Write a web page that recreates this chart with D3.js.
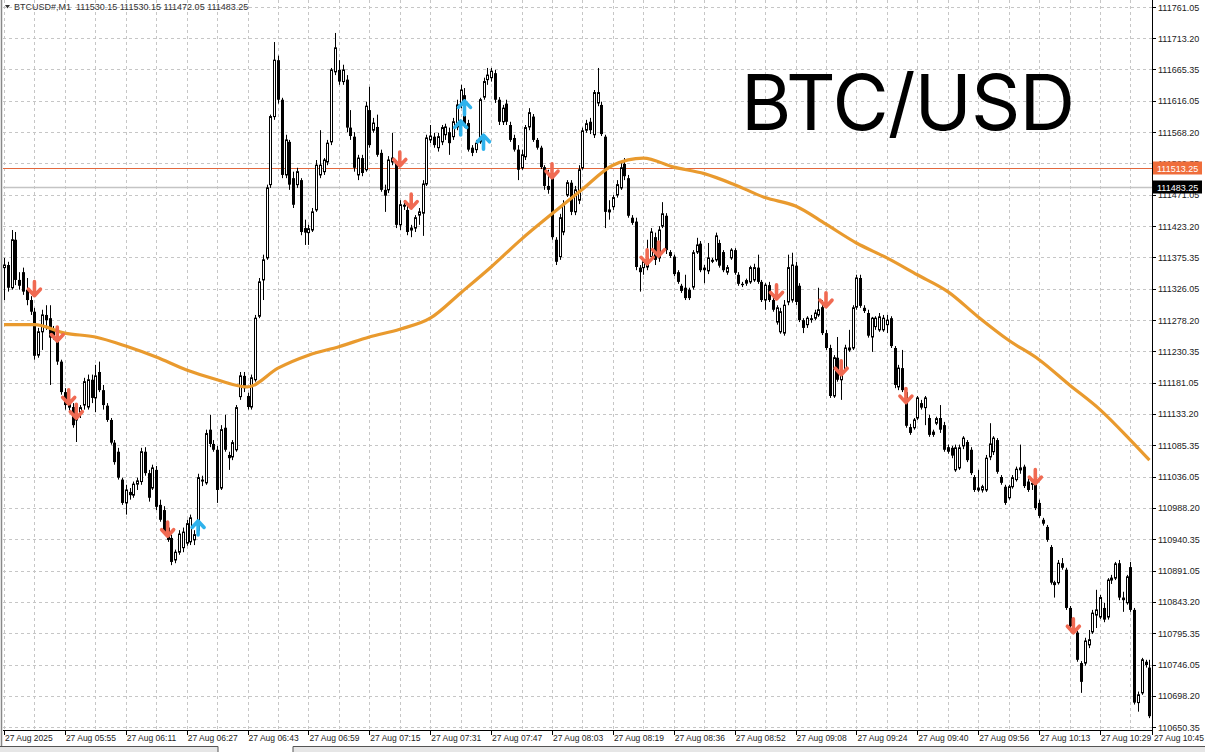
<!DOCTYPE html>
<html><head><meta charset="utf-8">
<script src="https://cdn.jsdelivr.net/npm/d3@7"></script>
<style>
html,body{margin:0;padding:0;background:#fff;}
svg{display:block;font-family:"Liberation Sans",Arial,sans-serif;}
</style>
</head><body>
<svg id="chart" width="1205" height="752"></svg>
<script>
// ---------------- DATA ----------------
const openP = [
111359,111363,111328,111402,111340,111352,111325,111309,111291,111224,
111260,111286,111281,111263,111251,111214,111167,111149,111144,111124,
111136,111147,111144,111186,111158,111198,111170,111146,111124,111089,
111075,111032,110996,111013,111008,111025,111029,111075,111042,111019,
111047,110993,110985,110958,110942,110908,110920,110927,110934,110936,
110939,110954,111032,111027,111109,111087,111078,111019,111112,111070,
111067,111078,111160,111192,111161,111144,111186,111284,111340,111374,
111487,111592,111679,111618,111502,111553,111497,111487,111494,111420,
111413,111417,111448,111502,111507,111522,111553,111661,111664,111646,
111649,111575,111561,111502,111528,111510,111602,111571,111576,111536,
111479,111479,111522,111521,111425,111456,111448,111417,111420,111440,
111443,111488,111556,111561,111544,111553,111564,111568,111561,111576,
111610,111625,111582,111544,111541,111553,111622,111649,111652,111659,
111618,111584,111612,111579,111559,111541,111513,111530,111576,111592,
111556,111544,111514,111485,111504,111402,111376,111414,111471,111490,
111445,111463,111513,111571,111584,111564,111613,111610,111561,111445,
111453,111471,111482,111519,111497,111436,111430,111359,111359,111360,
111376,111406,111374,111423,111439,111383,111376,111352,111331,111328,
111325,111329,111383,111396,111359,111354,111371,111371,111397,111383,
111352,111374,111386,111348,111334,111335,111337,111340,111359,111337,
111309,111332,111309,111275,111260,111258,111306,111309,111362,111331,
111278,111271,111281,111281,111286,111298,111258,111235,111161,111220,
111186,111201,111232,111235,111298,111343,111297,111289,111252,111268,
111263,111263,111271,111281,111235,111175,111204,111167,111113,111112,
111127,111150,111143,111127,111106,111119,111127,111116,111082,111081,
111047,111050,111084,111090,111078,111036,111016,111016,111016,111067,
111075,111093,111036,111021,111004,111021,111032,111047,111052,111029,
111027,111027,110996,110970,110959,110928,110870,110873,110903,110893,
110834,110805,110796,110749,110749,110777,110797,110823,110820,110834,
110820,110877,110880,110903,110850,110842,110897,110831,110688,110703,
110751,110742
];
const highP = [
111374,111368,111417,111414,111352,111359,111343,111315,111297,111266,
111294,111301,111301,111269,111255,111217,111173,111155,111150,111143,
111147,111189,111194,111194,111209,111214,111178,111150,111127,111093,
111081,111035,111024,111019,111029,111035,111081,111082,111047,111055,
111053,111001,110991,110962,110947,110924,110954,110958,110970,110978,
110954,111041,111038,111109,111132,111093,111084,111116,111132,111075,
111093,111147,111198,111198,111166,111194,111286,111343,111379,111487,
111595,111707,111686,111621,111564,111556,111507,111513,111497,111433,
111425,111451,111525,111571,111528,111556,111667,111721,111679,111672,
111656,111602,111568,111533,111533,111615,111638,111590,111595,111541,
111487,111531,111567,111525,111463,111463,111456,111425,111440,111451,
111494,111564,111579,111567,111567,111579,111581,111575,111590,111618,
111641,111636,111587,111548,111556,111621,111652,111667,111667,111664,
111622,111610,111618,111584,111564,111548,111541,111579,111605,111596,
111559,111547,111517,111510,111510,111406,111442,111463,111494,111494,
111485,111517,111575,111587,111590,111633,111667,111615,111564,111463,
111471,111494,111521,111528,111502,111440,111436,111363,111374,111402,
111420,111413,111423,111460,111443,111386,111379,111355,111334,111348,
111328,111386,111405,111400,111363,111397,111374,111413,111402,111386,
111363,111389,111389,111352,111337,111342,111362,111365,111379,111340,
111335,111337,111312,111301,111297,111309,111379,111382,111368,111335,
111281,111284,111286,111294,111328,111309,111263,111240,111224,111252,
111209,111240,111263,111301,111348,111348,111301,111294,111283,111284,
111289,111286,111286,111284,111238,111209,111232,111170,111118,111127,
111161,111155,111161,111132,111109,111129,111147,111121,111086,111084,
111086,111086,111099,111093,111082,111039,111047,111024,111070,111119,
111099,111096,111039,111024,111024,111039,111052,111086,111055,111035,
111032,111035,111001,110973,110962,110931,110876,110908,110911,110896,
110837,110816,110799,110752,110788,110800,110831,110862,110854,110842,
110880,110885,110905,110908,110859,110885,110905,110834,110705,110757,
110754,110754
];
const lowP = [
111309,111322,111325,111332,111325,111317,111301,111286,111217,111220,
111232,111263,111178,111248,111209,111163,111140,111136,111112,111090,
111127,111140,111140,111150,111136,111167,111140,111121,111086,111055,
111032,110993,110978,111001,111004,111016,111024,111038,110998,111016,
110985,110967,110947,110936,110900,110903,110916,110920,110930,110931,
110931,110951,111022,111024,111082,111075,110996,111016,111075,111047,
111062,111075,111155,111167,111140,111140,111183,111281,111309,111371,
111482,111587,111612,111497,111497,111479,111451,111482,111409,111394,
111394,111414,111445,111497,111502,111517,111548,111656,111641,111641,
111568,111556,111507,111494,111500,111507,111544,111567,111530,111476,
111445,111474,111517,111420,111417,111448,111409,111406,111414,111425,
111408,111485,111551,111544,111538,111548,111556,111533,111556,111571,
111605,111575,111538,111531,111536,111550,111618,111641,111646,111613,
111579,111579,111579,111553,111538,111494,111510,111525,111571,111553,
111541,111511,111479,111473,111402,111363,111371,111409,111468,111440,
111440,111457,111510,111567,111565,111559,111608,111562,111420,111433,
111448,111467,111479,111494,111436,111425,111355,111322,111348,111355,
111371,111363,111368,111420,111380,111374,111346,111334,111320,111309,
111309,111325,111380,111352,111335,111349,111366,111368,111359,111352,
111348,111371,111348,111331,111329,111331,111334,111337,111334,111306,
111294,111306,111291,111271,111257,111254,111301,111305,111301,111275,
111258,111266,111274,111278,111283,111255,111232,111158,111158,111183,
111155,111198,111229,111232,111294,111297,111289,111251,111229,111263,
111260,111260,111258,111235,111173,111170,111167,111112,111101,111109,
111124,111140,111116,111098,111098,111116,111104,111075,111072,111065,
111044,111047,111079,111059,111039,111013,111013,111012,111013,111062,
111070,111041,111024,110993,111001,111018,111029,111041,111019,111013,
111016,110985,110973,110961,110936,110870,110850,110870,110893,110831,
110803,110794,110751,110703,110745,110772,110794,110803,110817,110812,
110816,110871,110877,110846,110828,110839,110828,110685,110674,110700,
110742,110664
];
const closeP = [
111363,111328,111402,111340,111331,111322,111309,111291,111223,111260,
111286,111278,111251,111254,111214,111167,111147,111143,111116,111136,
111143,111183,111186,111158,111192,111170,111147,111124,111089,111059,
111035,110996,111016,111008,111025,111030,111075,111042,111004,111050,
110990,110970,110951,110939,110905,110920,110948,110951,110964,110973,
110947,111035,111029,111103,111087,111078,111016,111109,111078,111065,
111089,111143,111192,111173,111144,111189,111281,111337,111371,111482,
111592,111679,111618,111502,111556,111487,111456,111507,111414,111413,
111419,111445,111517,111517,111525,111551,111664,111698,111646,111664,
111575,111562,111513,111528,111505,111608,111548,111582,111533,111479,
111470,111525,111528,111425,111456,111453,111414,111420,111436,111445,
111488,111559,111562,111548,111561,111575,111576,111551,111584,111610,
111633,111579,111541,111536,111551,111618,111646,111656,111662,111618,
111584,111605,111584,111556,111541,111510,111533,111575,111598,111556,
111544,111514,111485,111479,111406,111368,111436,111457,111490,111445,
111479,111510,111570,111581,111571,111629,111629,111565,111445,111448,
111467,111487,111513,111500,111439,111428,111360,111352,111368,111374,
111414,111371,111417,111442,111386,111377,111349,111337,111323,111312,
111312,111382,111394,111355,111355,111374,111368,111408,111362,111355,
111359,111386,111351,111334,111332,111339,111359,111359,111337,111309,
111332,111309,111294,111297,111291,111301,111359,111363,111306,111278,
111266,111281,111278,111289,111294,111258,111235,111161,111220,111186,
111204,111235,111235,111297,111343,111300,111292,111254,111281,111281,
111283,111281,111278,111238,111178,111204,111170,111115,111104,111124,
111158,111143,111158,111101,111101,111126,111109,111078,111075,111069,
111081,111081,111096,111062,111042,111016,111019,111021,111065,111087,
111096,111044,111027,110996,111021,111035,111048,111050,111022,111016,
111024,110988,110976,110964,110939,110873,110873,110903,110896,110834,
110806,110797,110754,110720,110783,110785,110826,110831,110850,110816,
110877,110880,110902,110850,110846,110882,110831,110688,110700,110754,
110746,110667
];

// moving average (sampled every 8 bars)
const maBarIndex = [0,8,16,24,32,40,48,56,64,72,80,88,96,104,112,120,128,136,144,152,160,168,176,184,192,200,208,216,224,232,240,248,256,264,272,280,288,296,301];
const maValue = [111271,111271,111258,111252,111238,111221,111201,111186,111175,111204,111224,111237,111252,111264,111281,111320,111360,111403,111442,111480,111517,111528,111514,111504,111487,111467,111454,111426,111397,111374,111348,111322,111283,111247,111217,111178,111140,111093,111062];

// signal arrows
const sellBar = [8,14,17,19,43,104,107,144,169,172,203,216,220,237,271,281];
const sellPrice = [111325,111255,111158,111136,110954,111525,111460,111507,111374,111386,111320,111308,111203,111160,111035,110805];
const buyBar = [51,120,121,126];
const buyPrice = [110959,111576,111607,111554];

// axes
const yTickValues = [111761.05,111713.20,111665.35,111616.05,111568.20,111520.35,111471.05,111423.20,111375.35,111326.05,111278.20,111230.35,111181.05,111133.20,111085.35,111036.05,110988.20,110940.35,110891.05,110843.20,110795.35,110746.05,110698.20,110650.35];
const xTickBar = [0,16,32,48,64,80,96,112,128,144,160,176,192,208,224,240,256,272,288,302];
const xTickLabel = ["27 Aug 2025","27 Aug 05:55","27 Aug 06:11","27 Aug 06:27","27 Aug 06:43","27 Aug 06:59","27 Aug 07:15","27 Aug 07:31","27 Aug 07:47","27 Aug 08:03","27 Aug 08:19","27 Aug 08:36","27 Aug 08:52","27 Aug 09:08","27 Aug 09:24","27 Aug 09:40","27 Aug 09:56","27 Aug 10:13","27 Aug 10:29","27 Aug 10:45"];

const askLine = 111513.25;
const bidLine = 111483.25;
const infoText = "BTCUSD#,M1  111530.15 111530.15 111472.05 111483.25";
const titleText = "BTC/USD";

// ---------------- DRAW ----------------
const svg = d3.select("#chart");
const plotLeft = 3, plotRight = 1152, plotTop = 0, axisY = 730;

const x = d3.scaleLinear().domain([0, 288]).range([4, 1100]);
const y = d3.scaleLinear().domain([110650.35, 111761.05]).range([727, 7]);

svg.append("rect").attr("width",1205).attr("height",752).attr("fill","#fff");

svg.append("defs").append("clipPath").attr("id","plotclip")
  .append("rect").attr("x",plotLeft).attr("y",plotTop).attr("width",plotRight-plotLeft).attr("height",axisY-plotTop);

// grid
const grid = svg.append("g").attr("stroke","#c6c6c6").attr("stroke-width",1).attr("stroke-dasharray","3,3");
grid.selectAll("line.h").data(yTickValues).join("line")
  .attr("x1",plotLeft).attr("x2",plotRight)
  .attr("y1",d=>Math.round(y(d))+0.5).attr("y2",d=>Math.round(y(d))+0.5);
const vIdx = d3.range(0, 301, 8);
grid.selectAll("line.v").data(vIdx).join("line")
  .attr("x1",d=>Math.round(x(d))+0.5).attr("x2",d=>Math.round(x(d))+0.5)
  .attr("y1",plotTop).attr("y2",axisY);

const plot = svg.append("g").attr("clip-path","url(#plotclip)");

// price lines
plot.append("line").attr("x1",plotLeft).attr("x2",plotRight)
  .attr("y1",Math.round(y(bidLine))+0.5).attr("y2",Math.round(y(bidLine))+0.5)
  .attr("stroke","#c4c4c4").attr("stroke-width",1.5);
plot.append("line").attr("x1",plotLeft).attr("x2",plotRight)
  .attr("y1",Math.round(y(askLine))+0.5).attr("y2",Math.round(y(askLine))+0.5)
  .attr("stroke","#e2683e").attr("stroke-width",1);

// candles
const bars = d3.range(openP.length).map(i=>({i,o:openP[i],h:highP[i],l:lowP[i],c:closeP[i]}));
const cg = plot.append("g");
cg.selectAll("line.wick").data(bars).join("line")
  .attr("x1",d=>Math.round(x(d.i))+0.5).attr("x2",d=>Math.round(x(d.i))+0.5)
  .attr("y1",d=>y(d.h)).attr("y2",d=>y(d.l))
  .attr("stroke","#000").attr("stroke-width",1);
cg.selectAll("rect.body").data(bars).join("rect")
  .attr("x",d=> d.c>=d.o ? Math.round(x(d.i))-0.5 : Math.round(x(d.i))-1)
  .attr("width",d=> d.c>=d.o ? 2 : 3)
  .attr("y",d=>y(Math.max(d.o,d.c)))
  .attr("height",d=>Math.max(1, Math.abs(y(d.o)-y(d.c))))
  .attr("fill",d=> d.c>=d.o ? "#fff" : "#000")
  .attr("stroke",d=> d.c>=d.o ? "#000" : "none")
  .attr("stroke-width",1);

// moving average
const ma = maBarIndex.map((b,k)=>({b,v:maValue[k]}));
plot.append("path").datum(ma)
  .attr("d", d3.line().x(d=>x(d.b)).y(d=>y(d.v)).curve(d3.curveMonotoneX))
  .attr("fill","none").attr("stroke","#e99a2e").attr("stroke-width",3.2).attr("stroke-linejoin","round");

// arrows
function arrowPath(dir){ // dir 1 = down, -1 = up
  const s = dir;
  return `M0,${-8*s} L0,${6*s} M-6,${-0.5*s} L0,${6*s} L6,${-0.5*s}`;
}
const ag = plot.append("g");
ag.selectAll("path.sell").data(sellBar.map((b,k)=>({b,p:sellPrice[k]}))).join("path")
  .attr("transform",d=>`translate(${x(d.b)},${y(d.p)})`)
  .attr("d",arrowPath(1)).attr("fill","none").attr("stroke","#f06a52")
  .attr("stroke-width",3.6).attr("stroke-linejoin","round").attr("stroke-linecap","round");
ag.selectAll("path.buy").data(buyBar.map((b,k)=>({b,p:buyPrice[k]}))).join("path")
  .attr("transform",d=>`translate(${x(d.b)},${y(d.p)})`)
  .attr("d",arrowPath(-1)).attr("fill","none").attr("stroke","#2fb2ec")
  .attr("stroke-width",3.6).attr("stroke-linejoin","round").attr("stroke-linecap","round");

// axes lines
svg.append("line").attr("x1",plotRight+0.5).attr("x2",plotRight+0.5).attr("y1",0).attr("y2",axisY+5)
  .attr("stroke","#000").attr("stroke-width",1);
svg.append("line").attr("x1",plotLeft).attr("x2",plotRight).attr("y1",axisY+0.5).attr("y2",axisY+0.5)
  .attr("stroke","#000").attr("stroke-width",1);

// y ticks & labels
const yg = svg.append("g");
yg.selectAll("line").data(yTickValues).join("line")
  .attr("x1",plotRight).attr("x2",plotRight+4)
  .attr("y1",d=>Math.round(y(d))+0.5).attr("y2",d=>Math.round(y(d))+0.5)
  .attr("stroke","#000");
yg.selectAll("text").data(yTickValues).join("text")
  .attr("x",plotRight+6).attr("y",d=>y(d)+3.5)
  .attr("font-size",9).attr("fill","#222")
  .text(d=>d.toFixed(2));

// x ticks & labels
const xg = svg.append("g");
xg.selectAll("line").data(xTickBar).join("line")
  .attr("x1",d=>Math.round(Math.min(x(d),plotRight))+0.5).attr("x2",d=>Math.round(Math.min(x(d),plotRight))+0.5)
  .attr("y1",axisY).attr("y2",axisY+5).attr("stroke","#000");
xg.selectAll("text").data(xTickBar).join("text")
  .attr("x",d=> x(d) > plotRight ? 1204 : x(d)+1)
  .attr("text-anchor",d=> x(d) > plotRight ? "end" : "start")
  .attr("y",axisY+11)
  .attr("font-size",8.5).attr("fill","#222")
  .text((d,k)=>xTickLabel[k]);

// price label boxes
function priceBox(v, bg){
  const g = svg.append("g").attr("transform",`translate(${plotRight+1},${Math.round(y(v))})`);
  g.append("rect").attr("x",0).attr("y",-6.5).attr("width",49).attr("height",13).attr("fill",bg);
  g.append("text").attr("x",4).attr("y",3.5).attr("font-size",9).attr("fill","#fff").text(v.toFixed(2));
}
priceBox(askLine,"#ef6d3b");
priceBox(bidLine,"#000");

// info text
svg.append("path").attr("d","M5,5 L10,5 L7.5,8.5 Z").attr("fill","#333");
svg.append("text").attr("x",14).attr("y",10).attr("font-size",9).attr("fill","#333")
  .attr("xml:space","preserve").style("white-space","pre").text(infoText);

// title
const title = svg.append("text").attr("x",741).attr("y",130)
  .attr("font-family","Inter, 'Liberation Sans', Arial, sans-serif")
  .attr("font-size",77).attr("fill","#000").text(titleText);
const tw = title.node().getComputedTextLength();
title.attr("letter-spacing", ((334 - tw)/ (titleText.length-1)).toFixed(2));

// window frame
svg.append("line").attr("x1",1.5).attr("x2",1.5).attr("y1",0).attr("y2",746).attr("stroke","#888").attr("stroke-width",1.5);
svg.append("rect").attr("x",0).attr("y",746).attr("width",1205).attr("height",6).attr("fill","#e6e6e6");
svg.append("rect").attr("x",218).attr("y",746).attr("width",75).attr("height",6).attr("fill","#fff");
svg.append("path").attr("d","M0,746.5 L218,746.5 L218,752 M293,752 L293,746.5 L1205,746.5")
  .attr("fill","none").attr("stroke","#555").attr("stroke-width",1);
</script>
</body></html>
